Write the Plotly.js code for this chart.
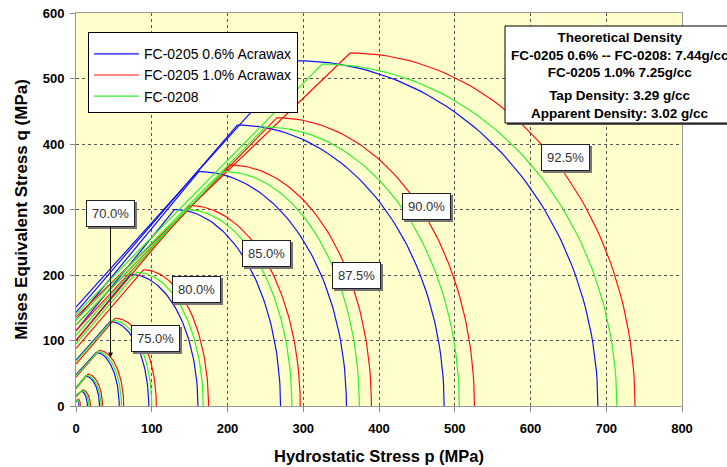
<!DOCTYPE html>
<html>
<head>
<meta charset="utf-8">
<script src="https://cdn.plot.ly/plotly-3.0.1.min.js"></script>
<style>html,body{margin:0;padding:0;background:#fff;}#chart{width:727px;height:467px;}</style>
</head>
<body>
<div id="chart"></div>
<script>
// Drucker-Prager cap curves, one entry per density level
// d = q-intercept of shear line, pa/qa = cap top (end of shear line), X = cap end on p axis
const densityLabels = ['', '', '', '70.0%', '75.0%', '80.0%', '85.0%', '87.5%', '90.0%', '92.5%'];

const blueD  = [8, 16, 28, 48, 70, 100, 115, 131, 143, 151];
const bluePa = [1.5, 6, 12, 26, 45, 72, 130, 162, 213, 292];
const blueQa = [10, 23, 46, 82, 129, 201, 300, 358, 429, 527];
const blueX  = [4, 15, 31, 57, 96, 161, 270, 357, 486, 689];

const greenD  = [7, 15, 27, 46, 68, 95, 108, 124, 131, 140];
const greenPa = [2, 7, 13, 28, 48, 80, 145, 195, 250, 325];
const greenQa = [10, 24, 47, 83, 131, 204, 300, 358, 426, 522];
const greenX  = [5, 17, 33, 60, 100, 168, 285, 374, 506, 714];

const redD  = [6, 14, 26, 44, 64, 88, 100, 115, 124, 136];
const redPa = [2.5, 8, 15, 30, 52, 89, 150, 203, 265, 362];
const redQa = [11, 25, 49, 85, 134, 208, 306, 368, 440, 539];
const redX  = [6, 19, 35, 63, 106, 175, 296, 390, 526, 738];

const seriesNames = ['FC-0205 0.6% Acrawax', 'FC-0205 1.0% Acrawax', 'FC-0208'];
const xTicks = [0, 100, 200, 300, 400, 500, 600, 700, 800];
const yTicks = [0, 100, 200, 300, 400, 500, 600];

function buildCurves(d, pa, qa, X) {
  const xs = [], ys = [];
  const N = 60;
  for (let i = 0; i < d.length; i++) {
    xs.push(0, pa[i]); ys.push(d[i], qa[i]);
    for (let k = 1; k <= N; k++) {
      const t = (Math.PI / 2) * k / N;
      xs.push(pa[i] + (X[i] - pa[i]) * Math.sin(t));
      ys.push(qa[i] * Math.cos(t));
    }
    xs.push(null); ys.push(null);
  }
  return {xs, ys};
}

const FONT = '"Liberation Sans", Arial, sans-serif';
const colors = ['#1010ff', '#ff1010', '#30f030'];
const sets = [
  buildCurves(blueD, bluePa, blueQa, blueX),
  buildCurves(redD, redPa, redQa, redX),
  buildCurves(greenD, greenPa, greenQa, greenX)
];
const traces = sets.map((s, i) => ({
  type: 'scatter', mode: 'lines', x: s.xs, y: s.ys, name: seriesNames[i],
  line: {color: colors[i], width: 1.2}, connectgaps: false, hoverinfo: 'skip'
}));

// label anchors (data coords) for density labels 70..92.5
const labelAnchors = {
  '70.0%': [45.6, 74],
  '75.0%': [104.4, 103],
  '80.0%': [159.6, 178],
  '85.0%': [251.6, 233],
  '87.5%': [370, 198.5],
  '90.0%': [462.8, 304],
  '92.5%': [646.7, 379]
};
const annotations = [];
densityLabels.forEach(lbl => {
  if (!lbl) return;
  const pos = labelAnchors[lbl];
  const isArrow = lbl === '70.0%';
  const base = {
    x: pos[0], y: pos[1], xref: 'x', yref: 'y', text: lbl,
    font: {family: FONT, size: 13, color: '#333'},
    borderpad: 5, borderwidth: 1
  };
  // shadow
  annotations.push(Object.assign({}, base, {
    bgcolor: '#777', bordercolor: '#777', font: {family: FONT, size: 13, color: '#777'},
    xshift: 2, yshift: -2,
    showarrow: isArrow, ax: 0, ay: -144, arrowcolor: 'rgba(0,0,0,0)', arrowwidth: 0.1, arrowhead: 0
  }));
  annotations.push(Object.assign({}, base, {
    bgcolor: '#fff', bordercolor: '#222',
    showarrow: isArrow, ax: 0, ay: -144, arrowcolor: '#111', arrowwidth: 1, arrowhead: 2, arrowsize: 1, standoff: 0
  }));
});

// info box
const L = 76, T = 13, PW = 606, PH = 393;
const px = v => (v - L) / PW;
const py = v => 1 - (v - T) / PH;
annotations.push({
  xref: 'paper', yref: 'paper', x: px(620), y: py(55), xanchor: 'center', yanchor: 'middle',
  showarrow: false, align: 'center',
  text: '<b>Theoretical Density</b><br><b>FC-0205 0.6% -- FC-0208: 7.44g/cc</b><br><b>FC-0205 1.0% 7.25g/cc</b>',
  font: {family: FONT, size: 13.5, color: '#000'}
});
annotations.push({
  xref: 'paper', yref: 'paper', x: px(620), y: py(104), xanchor: 'center', yanchor: 'middle',
  showarrow: false, align: 'center',
  text: '<b>Tap Density: 3.29 g/cc</b><br><b>Apparent Density: 3.02 g/cc</b>',
  font: {family: FONT, size: 13.5, color: '#000'}
});

const shapes = [
  {type: 'rect', xref: 'paper', yref: 'paper', x0: px(507), x1: px(750), y0: py(125), y1: py(28),
   fillcolor: '#555', line: {width: 0}, layer: 'above'},
  {type: 'rect', xref: 'paper', yref: 'paper', x0: px(505), x1: px(748), y0: py(123), y1: py(26),
   fillcolor: '#fff', line: {color: '#000', width: 1}, layer: 'above'}
];

const axisCommon = {
  showgrid: true, gridcolor: '#555', griddash: 'dot', gridwidth: 1,
  showline: true, linecolor: '#999', linewidth: 1, mirror: true,
  ticks: 'outside', ticklen: 5, tickcolor: '#888',
  zeroline: false,
  tickfont: {family: FONT, size: 13, color: '#000', weight: 'bold'}
};

const layout = {
  width: 727, height: 467,
  margin: {l: L, r: 727 - L - PW, t: T, b: 467 - T - PH, pad: 0},
  paper_bgcolor: '#fff', plot_bgcolor: '#ffffcc',
  showlegend: true,
  legend: {
    x: px(88), y: py(32), xanchor: 'left', yanchor: 'top',
    bgcolor: '#fff', bordercolor: '#000', borderwidth: 1,
    font: {family: FONT, size: 14, color: '#000'},
    title: {text: ' ', font: {family: FONT, size: 4}},
    itemwidth: 45, tracegroupgap: 0
  },
  xaxis: Object.assign({}, axisCommon, {
    range: [0, 800], tickvals: xTicks, ticktext: xTicks.map(String), ticklabelstandoff: 5,
    title: {text: 'Hydrostatic Stress p (MPa)', font: {family: FONT, size: 16.5, color: '#000', weight: 'bold'}, standoff: 15}
  }),
  yaxis: Object.assign({}, axisCommon, {
    range: [0, 600], tickvals: yTicks, ticktext: yTicks.map(String), ticklabelstandoff: 3,
    title: {text: 'Mises Equivalent Stress q (MPa)', font: {family: FONT, size: 17, color: '#000', weight: 'bold'}, standoff: 10}
  }),
  annotations: annotations,
  shapes: shapes
};

Plotly.newPlot('chart', traces, layout, {displayModeBar: false, staticPlot: true});
</script>
</body>
</html>
